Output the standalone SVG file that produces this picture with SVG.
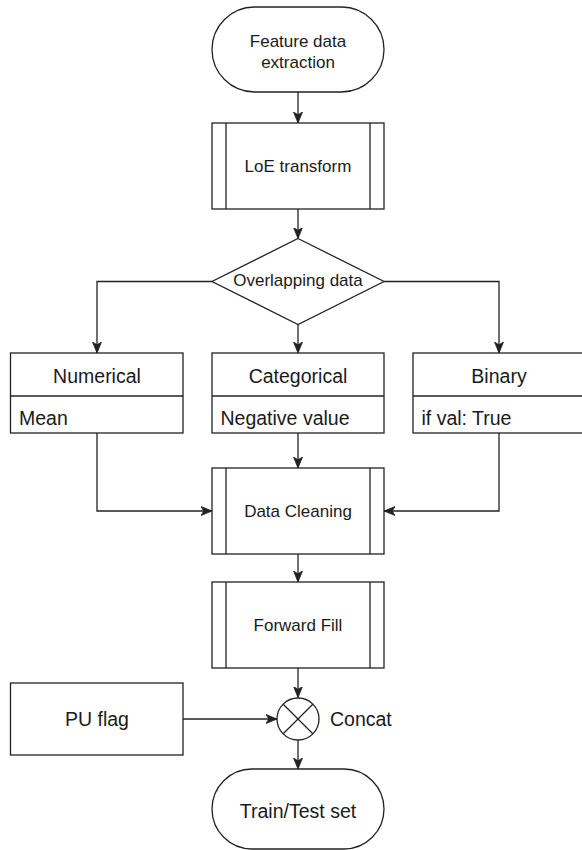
<svg xmlns="http://www.w3.org/2000/svg" width="582" height="850" viewBox="0 0 582 850">
  <style>
    .shape { fill: #ffffff; stroke: #222222; stroke-width: 1.3; }
    .line { fill: none; stroke: #222222; stroke-width: 1.3; }
    .conn { fill: none; stroke: #222222; stroke-width: 1.3; marker-end: url(#arrow); }
    .t { font-family: "Liberation Sans", Arial, Helvetica, sans-serif; fill: #1a1a1a; }
    .sm { font-size: 17px; text-anchor: middle; }
    .lg { font-size: 19.5px; text-anchor: middle; }
    .lgl { font-size: 19.5px; text-anchor: start; }
  </style>
  <defs>
    <marker id="arrow" markerUnits="userSpaceOnUse" markerWidth="12" markerHeight="10" refX="11" refY="5" orient="auto" viewBox="0 0 12 10">
      <path d="M0,0.5 L11,5 L0,9.5 L2.8,5 Z" fill="#222222" stroke="#222222" stroke-width="0.8" stroke-linejoin="miter"/>
    </marker>
  </defs>

  <g id="connectors">
    <path class="conn" d="M298,92 L298,123"/>
    <path class="conn" d="M298,209 L298,238.5"/>
    <path class="conn" d="M212,281.5 L97,281.5 L97,353"/>
    <path class="conn" d="M384,281.5 L499,281.5 L499,353"/>
    <path class="conn" d="M298,324.5 L298,353"/>
    <path class="conn" d="M97,433 L97,511 L212,511"/>
    <path class="conn" d="M298,433 L298,468"/>
    <path class="conn" d="M499,433 L499,511 L384,511"/>
    <path class="conn" d="M298,554 L298,582"/>
    <path class="conn" d="M298,668 L298,697.5"/>
    <path class="conn" d="M183,719 L277,719"/>
    <path class="conn" d="M298,740 L298,769"/>
  </g>

  <g id="feature-data-extraction">
    <rect class="shape" x="212" y="7" width="172" height="85" rx="42.5" ry="42.5"/>
    <text class="t sm" x="298" y="46.5">Feature data</text>
    <text class="t sm" x="298" y="67.5">extraction</text>
  </g>

  <g id="loe-transform">
    <rect class="shape" x="212" y="123" width="172" height="86"/>
    <path class="line" d="M226,123 L226,209 M370,123 L370,209"/>
    <text class="t sm" x="298" y="172">LoE transform</text>
  </g>

  <g id="overlapping-data">
    <polygon class="shape" points="298,238.5 384,281.5 298,324.5 212,281.5"/>
    <text class="t sm" x="298" y="286">Overlapping data</text>
  </g>

  <g id="numerical">
    <rect class="shape" x="10.5" y="353" width="172.5" height="80"/>
    <path class="line" d="M10.5,396 L183,396"/>
    <text class="t lg" x="97" y="383">Numerical</text>
    <text class="t lgl" x="19" y="424.5">Mean</text>
  </g>

  <g id="categorical">
    <rect class="shape" x="212" y="353" width="172" height="80"/>
    <path class="line" d="M212,396 L384,396"/>
    <text class="t lg" x="298" y="383">Categorical</text>
    <text class="t lgl" x="220.5" y="424.5">Negative value</text>
  </g>

  <g id="binary">
    <rect class="shape" x="413" y="353" width="172" height="80"/>
    <path class="line" d="M413,396 L585,396"/>
    <text class="t lg" x="499" y="383">Binary</text>
    <text class="t lgl" x="421.5" y="424.5">if val: True</text>
  </g>

  <g id="data-cleaning">
    <rect class="shape" x="212" y="468" width="172" height="86"/>
    <path class="line" d="M226,468 L226,554 M370,468 L370,554"/>
    <text class="t sm" x="298" y="516.5">Data Cleaning</text>
  </g>

  <g id="forward-fill">
    <rect class="shape" x="212" y="582" width="172" height="86"/>
    <path class="line" d="M226,582 L226,668 M370,582 L370,668"/>
    <text class="t sm" x="298" y="630.5">Forward Fill</text>
  </g>

  <g id="pu-flag">
    <rect class="shape" x="10.5" y="683" width="172.5" height="72"/>
    <text class="t lg" x="97" y="725.5">PU flag</text>
  </g>

  <g id="concat">
    <circle class="shape" cx="298" cy="719" r="21"/>
    <path class="line" d="M283.2,704.2 L312.8,733.8 M312.8,704.2 L283.2,733.8"/>
    <text class="t lgl" x="330" y="725.5">Concat</text>
  </g>

  <g id="train-test-set">
    <rect class="shape" x="212" y="769" width="172" height="80" rx="40" ry="40"/>
    <text class="t lg" x="298" y="818">Train/Test set</text>
  </g>
</svg>
